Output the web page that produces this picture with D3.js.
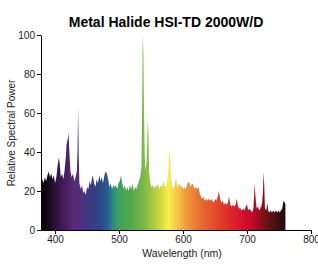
<!DOCTYPE html>
<html>
<head>
<meta charset="utf-8">
<script src="https://cdn.jsdelivr.net/npm/d3@7"></script>
<style>
body { margin:0; background:#fff; }
.axis text { font-family:"Liberation Sans", Arial, sans-serif; font-size:10px; fill:#222; }
.axis path, .axis line { stroke:#000; stroke-width:1; }
</style>
</head>
<body>
<script>
// spectrum (nm, relative power)
var wavelength = [378,380,382,384,386,388,390,392,394,396,398,400,402,404,406,407,409,411,413,415,417,418,420,421,422,424,426,428,430,432,434,435,436,437,438,440,442,444,446,448,450,452,454,456,458,459,461,463,465,467,469,471,473,475,477,479,481,483,485,487,489,491,493,495,497,499,501,503,505,507,509,511,513,515,517,519,521,523,525,527,529,531,533,535,536,537,538,539,540,541,543,544,545,546,547,549,551,553,555,557,559,561,563,565,567,569,571,573,575,577,578,579,580,581,583,585,587,589,590,592,594,596,598,600,602,604,606,608,610,612,614,616,618,620,622,624,626,628,630,632,634,636,638,640,642,644,646,648,650,652,654,656,658,660,662,664,666,668,670,672,674,676,678,680,682,684,686,688,690,692,694,696,698,700,702,704,706,708,710,712,713,715,717,719,721,722,723,725,726,727,728,730,732,733,735,737,739,741,743,745,747,749,751,753,755,757,759,760];
var power = [24,26,24,27,25,28,30,27,29,26,28,24,27,33,37,35,27,29,26,31,38,44,47,50,42,30,27,29,25,27,30,40,63,38,24,21,23,19,20,18,22,21,25,23,27,28,24,22,26,24,28,25,27,24,28,30,29,26,22,24,21,23,22,23,21,24,25,28,24,21,23,20,22,20,23,21,24,20,22,21,23,25,27,32,60,100,92,60,40,31,35,45,57,50,30,24,22,23,21,23,22,24,21,23,22,25,23,22,25,30,38,42,36,27,22,21,23,27,24,22,24,22,23,21,22,21,23,25,24,22,24,23,21,22,21,22,19,17,16,17,15,16,15,16,15,16,15,14,16,15,17,20,16,14,15,13,14,13,14,17,13,12,13,12,13,16,12,11,11,10,11,10,12,13,10,11,10,9,11,24,18,11,12,10,11,14,11,20,30,22,11,10,14,10,9,10,9,10,9,10,9,10,9,10,11,15,14,13];

var xTicks = [400,500,600,700,800];
var yTicks = [0,20,40,60,80,100];

// colour of the spectrum along the wavelength axis
var stopNm = [380,392,408,430,455,473,483,490,498,517,537,553,569,577,590,606,631,662,693,709,725,747,760];
var stopColor = ["#0a0008","#1a0a1e","#3a1850","#5a2a78","#3a3a80","#2a4a88","#2a6090","#2a8a80","#3aa060","#50a848","#78b848","#a8c840","#e0e040","#f8f048","#f8c848","#f09838","#e86830","#e03828","#d81030","#c00828","#801018","#401010","#200808"];

var svg = d3.select("body").append("svg")
	.attr("width", 318)
	.attr("height", 265);

var x = d3.scaleLinear().domain([378, 800]).range([41, 311]);
var y = d3.scaleLinear().domain([0, 100]).range([230, 35]);

var grad = svg.append("defs").append("linearGradient")
	.attr("id", "spec")
	.attr("gradientUnits", "userSpaceOnUse")
	.attr("x1", x(stopNm[0])).attr("x2", x(stopNm[stopNm.length - 1]))
	.attr("y1", 0).attr("y2", 0);

grad.selectAll("stop")
	.data(stopNm)
	.enter()
	.append("stop")
	.attr("offset", function(d){
		return (d - stopNm[0]) / (stopNm[stopNm.length - 1] - stopNm[0]);
	})
	.attr("stop-color", function(d, i){ return stopColor[i]; });

var area = d3.area()
	.x(function(d, i){ return x(wavelength[i]); })
	.y0(y(0))
	.y1(function(d){ return y(d); });

svg.append("path")
	.datum(power)
	.attr("d", area)
	.attr("fill", "url(#spec)");

svg.append("g")
	.attr("class", "axis")
	.attr("transform", "translate(0," + y(0) + ")")
	.call(d3.axisBottom(x).tickValues(xTicks).tickSize(4).tickSizeOuter(0).tickPadding(2));

svg.append("g")
	.attr("class", "axis")
	.attr("transform", "translate(" + x(378) + ",0)")
	.call(d3.axisLeft(y).tickValues(yTicks).tickSize(4).tickSizeOuter(0).tickPadding(2));

svg.append("text")
	.attr("x", 166)
	.attr("y", 27)
	.attr("text-anchor", "middle")
	.style("font-family", "Liberation Sans, Arial, sans-serif")
	.style("font-weight", "bold")
	.style("font-size", "14px")
	.text("Metal Halide HSI-TD 2000W/D");

svg.append("text")
	.attr("transform", "translate(15,133) rotate(-90)")
	.attr("text-anchor", "middle")
	.style("font-family", "Liberation Sans, Arial, sans-serif")
	.style("font-size", "10px")
	.style("fill", "#222")
	.text("Relative Spectral Power");

svg.append("text")
	.attr("x", 182)
	.attr("y", 257)
	.attr("text-anchor", "middle")
	.style("font-family", "Liberation Sans, Arial, sans-serif")
	.style("font-size", "10.5px")
	.style("fill", "#222")
	.text("Wavelength (nm)");
</script>
</body>
</html>
